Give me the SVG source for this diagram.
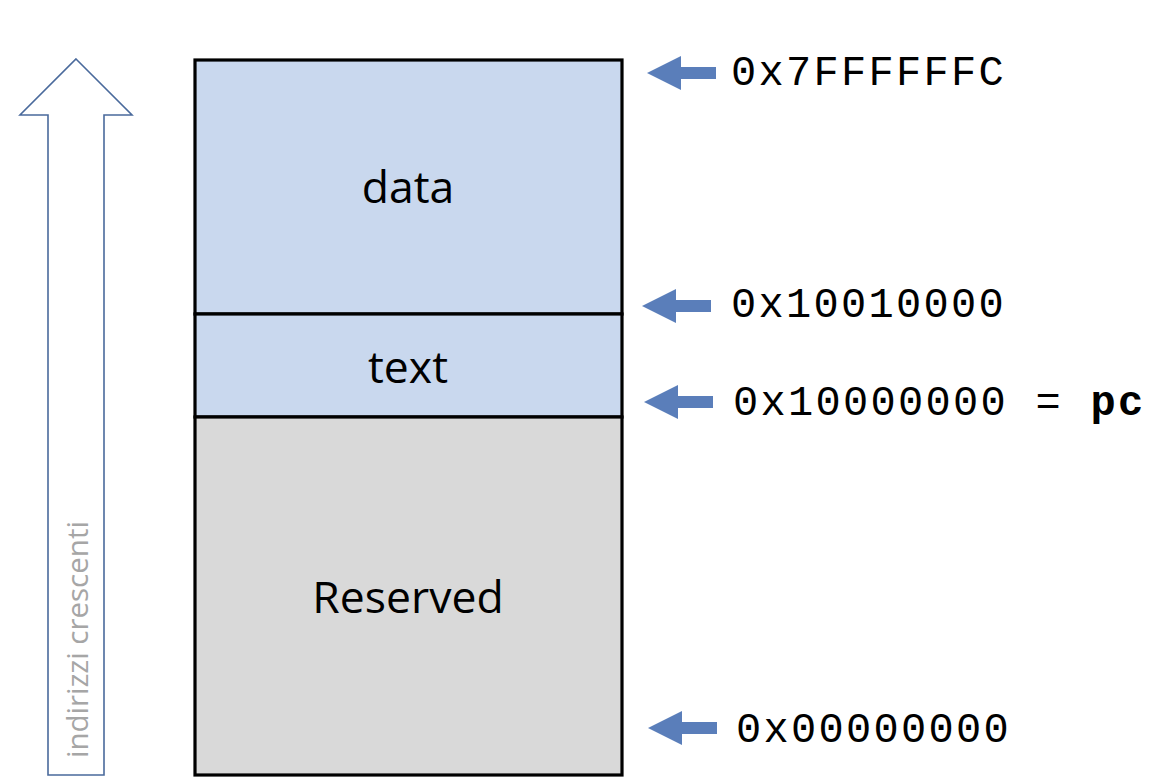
<svg xmlns="http://www.w3.org/2000/svg" width="1168" height="784" viewBox="0 0 1168 784">
<defs>
<style>
.seg{stroke:#000;stroke-width:3.2}
.lbl{font-family:"Open Sans","Noto Sans",sans-serif;font-size:44.5px;fill:#000;text-anchor:middle}
.addr{font-family:"Liberation Mono","Courier New",monospace;font-size:42px;fill:#000;letter-spacing:2.3px}
.ptr{fill:#5A7EBA}
</style>
<path id="ptr" d="M0,0 L34,-17 L34,-6 L69,-6 L69,6 L34,6 L34,17 Z"/>
</defs>
<rect width="1168" height="784" fill="#fff"/>
<g id="upArrow">
<path d="M76,59 L132,115 L104,115 L104,775 L48,775 L48,115 L20,115 Z" fill="#fff" stroke="#4A6A9C" stroke-width="1.6"/>
<text transform="translate(88,758) rotate(-90)" font-family="Open Sans,Noto Sans,sans-serif" font-size="29.5" fill="#A6A6A6">indirizzi crescenti</text>
</g>
<g id="data">
<rect class="seg" x="195" y="60" width="427" height="254" fill="#C9D8EE"/>
<text class="lbl" x="408" y="203">data</text>
</g>
<g id="text">
<rect class="seg" x="195" y="314" width="427" height="103" fill="#C9D8EE"/>
<text class="lbl" x="408" y="383">text</text>
</g>
<g id="reserved">
<rect class="seg" x="195" y="417" width="427" height="358" fill="#D9D9D9"/>
<text class="lbl" x="408" y="613">Reserved</text>
</g>
<g id="connectors">
<use href="#ptr" class="ptr" x="647" y="73"/>
<use href="#ptr" class="ptr" x="642" y="306"/>
<use href="#ptr" class="ptr" x="644" y="402"/>
<use href="#ptr" class="ptr" x="648" y="728"/>
</g>
<g id="addr-top"><text class="addr" x="731" y="85">0x7FFFFFFC</text></g>
<g id="addr-data"><text class="addr" x="731" y="317">0x10010000</text></g>
<g id="addr-text"><text class="addr" x="733" y="415">0x10000000 = <tspan font-weight="bold">pc</tspan></text></g>
<g id="addr-zero"><text class="addr" x="736" y="742">0x00000000</text></g>
</svg>
